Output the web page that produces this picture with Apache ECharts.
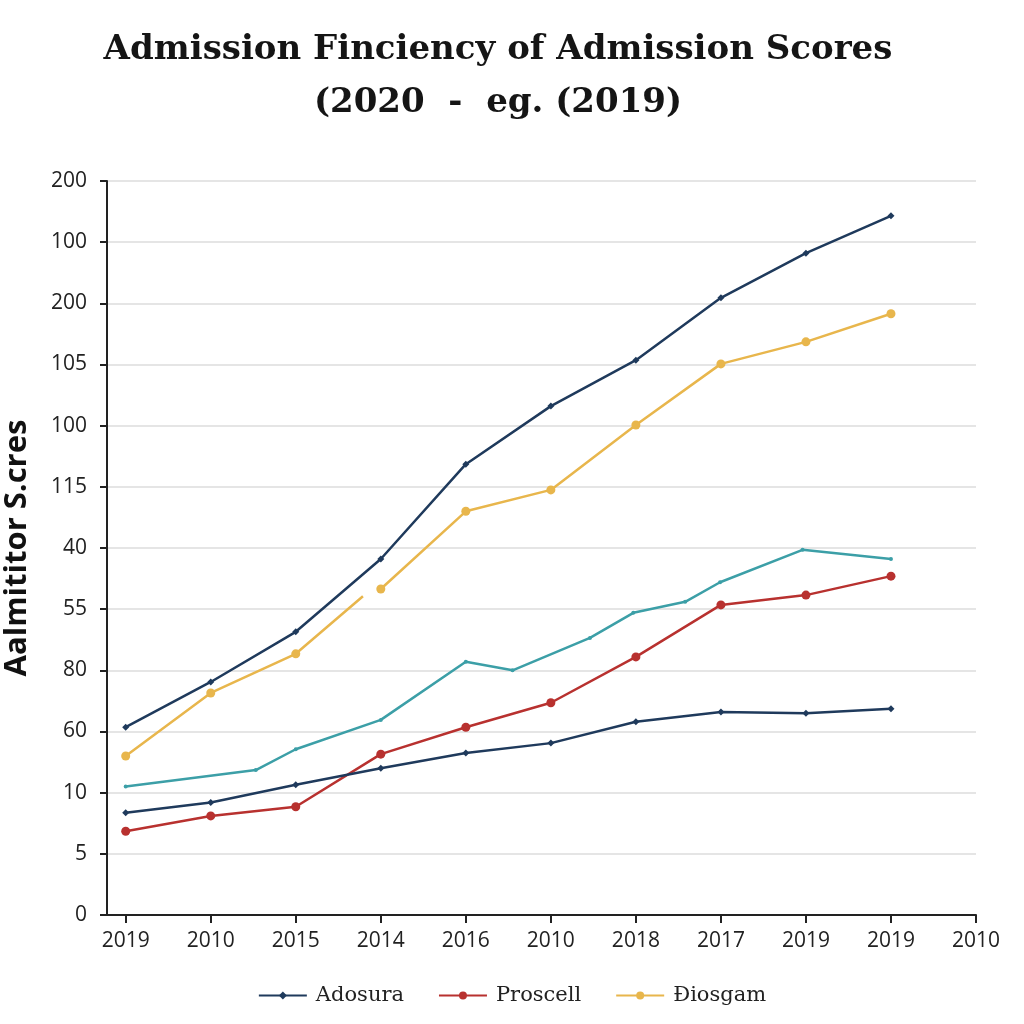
<!DOCTYPE html>
<html><head><meta charset="utf-8">
<script src="https://cdn.jsdelivr.net/npm/echarts@6/dist/echarts.min.js"></script>
<style>html,body{margin:0;padding:0;background:#fff}#c{width:1024px;height:1024px}</style>
</head><body><div id="c"></div>
<script>
var xLabels = ['2019','2010','2015','2014','2016','2010','2018','2017','2019','2019','2010'];
var yLabels = ['0','5','10','60','80','55','40','115','100','105','200','100','200'];
var adosuraTop = [3.07,3.81,4.63,5.82,7.37,8.32,9.07,10.09,10.82,11.43];
var biosgamA = [[0,2.60],[1,3.63],[2,4.27],[2.79,5.21]];
var biosgamB = [[3,5.33],[4,6.60],[5,6.95],[6,8.01],[7,9.01],[8,9.37],[9,9.83]];
var tealX = [0,1.53,2,3,4,4.55,5.46,5.97,6.58,6.99,7.96,9];
var tealY = [2.10,2.37,2.71,3.19,4.14,4.00,4.53,4.94,5.12,5.44,5.97,5.82];
var proscell = [1.37,1.62,1.77,2.63,3.07,3.47,4.22,5.07,5.23,5.54];
var adosuraLow = [1.67,1.84,2.13,2.40,2.65,2.81,3.16,3.32,3.30,3.37];

function pairs(arr){ return arr.map(function(v,i){return [i,v];}); }
var navy='#1f3a5c', red='#b8312f', yellow='#e8b64c', teal='#3c9fa7';
var ticks=[0,1,2,3,4,5,6,7,8,9,10];

var chart = echarts.init(document.getElementById('c'));
chart.setOption({
  animation:false,
  backgroundColor:'#fff',
  title:{
    text:'Admission Finciency of Admission Scores\n(2020  -  eg. (2019)',
    left:493, top:19, textAlign:'center',
    textStyle:{fontFamily:'DejaVu Serif',fontWeight:'bold',fontSize:34,lineHeight:53,color:'#151515'}
  },
  legend:{
    top:980, left:'center', itemGap:34, itemWidth:48, itemHeight:10,
    data:['Adosura','Proscell','Điosgam'],
    textStyle:{fontFamily:'DejaVu Serif',fontSize:21,color:'#222',padding:[0,0,0,4]}
  },
  grid:{left:107,right:48,top:181,bottom:109,containLabel:false,outerBoundsMode:'none'},
  xAxis:{
    type:'value', min:-0.22, max:10,
    axisLine:{show:true,onZero:false,lineStyle:{color:'#222',width:2}},
    axisTick:{show:true,customValues:ticks,length:8,lineStyle:{color:'#222',width:2}},
    axisLabel:{customValues:ticks,margin:16,fontFamily:'Open Sans',fontSize:21,color:'#222',
      formatter:function(v){return xLabels[Math.round(v)];}},
    splitLine:{show:false}
  },
  yAxis:{
    type:'value', min:0, max:12, interval:1,
    name:'Aalmititor S.cres', nameLocation:'middle', nameGap:74, nameRotate:90,
    nameTextStyle:{fontFamily:'Open Sans',fontWeight:'bold',fontSize:31,color:'#111'},
    axisLine:{show:true,onZero:false,lineStyle:{color:'#222',width:2}},
    axisTick:{show:true,length:7,lineStyle:{color:'#222',width:2}},
    axisLabel:{margin:20,fontFamily:'Open Sans',fontSize:21,color:'#222',
      formatter:function(v){return yLabels[Math.round(v)];}},
    splitLine:{show:true,lineStyle:{color:'#dddddd',width:1.5}}
  },
  series:[
    {name:'Adosura',type:'line',data:pairs(adosuraTop),color:navy,symbol:'diamond',symbolSize:7,lineStyle:{width:2.5,color:navy},itemStyle:{color:navy}},
    {name:'Điosgam',type:'line',data:biosgamA.map(function(p,i){return i===biosgamA.length-1?{value:p,symbol:'none'}:p;}),color:yellow,symbol:'circle',symbolSize:9,lineStyle:{width:2.5,color:yellow},itemStyle:{color:yellow}},
    {name:'Điosgam',type:'line',data:biosgamB,color:yellow,symbol:'circle',symbolSize:9,lineStyle:{width:2.5,color:yellow},itemStyle:{color:yellow}},
    {name:'Teal',type:'line',data:tealX.map(function(x,i){return [x,tealY[i]];}),color:teal,symbol:'circle',symbolSize:4,lineStyle:{width:2.5,color:teal},itemStyle:{color:teal}},
    {name:'Proscell',type:'line',data:pairs(proscell),color:red,symbol:'circle',symbolSize:9,lineStyle:{width:2.5,color:red},itemStyle:{color:red}},
    {name:'AdosuraLow',type:'line',data:pairs(adosuraLow),color:navy,symbol:'diamond',symbolSize:7,lineStyle:{width:2.5,color:navy},itemStyle:{color:navy}}
  ]
});
</script></body></html>
